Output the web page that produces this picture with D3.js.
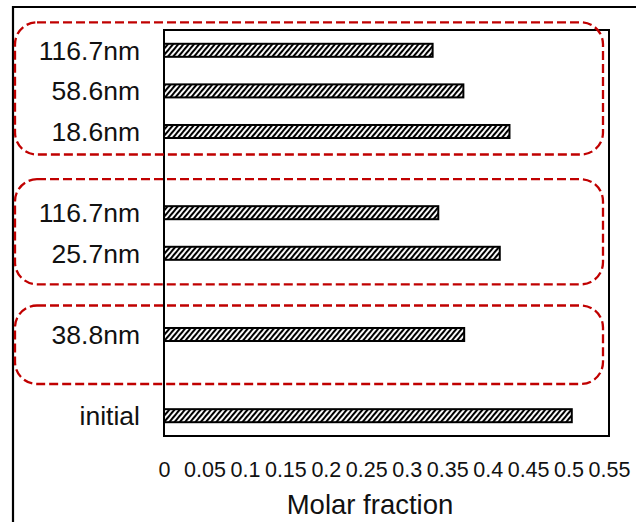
<!DOCTYPE html>
<html>
<head>
  <meta charset="utf-8">
  <script src="https://d3js.org/d3.v7.min.js"></script>
  <style>
    body { margin: 0; background: #fff; }
    text { font-family: "Liberation Sans", Arial, sans-serif; fill: #111; }
  </style>
</head>
<body>
  <div id="chart"></div>
  <script>
    // categories top to bottom, blanks are the gaps between the groups
    var categories = ["116.7nm", "58.6nm", "18.6nm", "", "116.7nm", "25.7nm", "", "38.8nm", "", "initial"];
    var values = [0.332, 0.370, 0.427, null, 0.339, 0.415, null, 0.371, null, 0.504];
    var tickValues = [0, 0.05, 0.1, 0.15, 0.2, 0.25, 0.3, 0.35, 0.4, 0.45, 0.5, 0.55];
    var xTitle = "Molar fraction";
    // groups marked by the red dashed boxes (first and last slot)
    var groupFirst = [0, 4, 7];
    var groupLast = [2, 5, 7];

    var W = 636, H = 522;
    var plot = { left: 164, top: 30, right: 609, bottom: 436 };

    var svg = d3.select("#chart").append("svg")
      .attr("width", W)
      .attr("height", H);

    var data = categories.map(function(c, i) { return { i: i, label: c, value: values[i] }; });

    var x = d3.scaleLinear().domain([0, 0.55]).range([plot.left, plot.right]);
    var y = d3.scaleBand().domain(d3.range(categories.length))
      .range([plot.top, plot.bottom])
      .paddingInner(0.63).paddingOuter(0.315);

    // hatch pattern
    var defs = svg.append("defs");
    var pat = defs.append("pattern")
      .attr("id", "hatch")
      .attr("patternUnits", "userSpaceOnUse")
      .attr("width", 4).attr("height", 4)
      .attr("patternTransform", "rotate(40)");
    pat.append("rect").attr("width", 4).attr("height", 4).attr("fill", "#fff");
    pat.append("line")
      .attr("x1", 1).attr("y1", 0).attr("x2", 1).attr("y2", 4)
      .attr("stroke", "#000").attr("stroke-width", 2.1);

    // outer frame (runs off the right and bottom edge)
    svg.append("path")
      .attr("d", "M13," + H + " L13,7 L" + W + ",7")
      .attr("fill", "none")
      .attr("stroke", "#000")
      .attr("stroke-width", 2.2);

    // plot frame
    svg.append("rect")
      .attr("x", plot.left).attr("y", plot.top)
      .attr("width", plot.right - plot.left)
      .attr("height", plot.bottom - plot.top)
      .attr("fill", "none")
      .attr("stroke", "#000")
      .attr("stroke-width", 2);

    // bars
    svg.selectAll(".bar")
      .data(data.filter(function(d) { return d.value != null; }))
      .enter().append("rect")
      .attr("class", "bar")
      .attr("x", x(0))
      .attr("y", function(d) { return y(d.i) + 1; })
      .attr("width", function(d) { return x(d.value) - x(0); })
      .attr("height", y.bandwidth() - 2)
      .attr("fill", "url(#hatch)")
      .attr("stroke", "#000")
      .attr("stroke-width", 2);

    // category labels
    svg.selectAll(".cat")
      .data(data)
      .enter().append("text")
      .attr("class", "cat")
      .attr("x", 140)
      .attr("y", function(d) { return y(d.i) + y.bandwidth() / 2 + 9.5; })
      .attr("text-anchor", "end")
      .style("font-size", "26.5px")
      .text(function(d) { return d.label; });

    // x axis labels only
    var xAxis = svg.append("g")
      .attr("transform", "translate(0," + plot.bottom + ")")
      .call(d3.axisBottom(x).tickValues(tickValues).tickSize(0).tickPadding(26)
        .tickFormat(function(d) { return String(+d.toFixed(2)); }));
    xAxis.select(".domain").remove();
    xAxis.selectAll("text")
      .style("font-size", "21.5px")
      .style("font-family", "'Liberation Sans', Arial, sans-serif")
      .attr("fill", "#111");

    svg.append("text")
      .attr("x", 370)
      .attr("y", 514)
      .attr("text-anchor", "middle")
      .style("font-size", "27.5px")
      .text(xTitle);

    // red dashed group boxes
    var padTop = [28, 33.5, 29];
    var padBottom = [23, 31, 49.5];
    var half = y.bandwidth() / 2;
    svg.selectAll(".grp")
      .data(groupFirst)
      .enter().append("rect")
      .attr("class", "grp")
      .attr("x", 15)
      .attr("y", function(d, k) { return y(d) + half - padTop[k]; })
      .attr("width", 603 - 15)
      .attr("height", function(d, k) {
        return (y(groupLast[k]) + half + padBottom[k]) - (y(d) + half - padTop[k]);
      })
      .attr("rx", 22).attr("ry", 22)
      .attr("fill", "none")
      .attr("stroke", "#c00000")
      .attr("stroke-width", 2.3)
      .attr("stroke-dasharray", "9,4");
  </script>
</body>
</html>
